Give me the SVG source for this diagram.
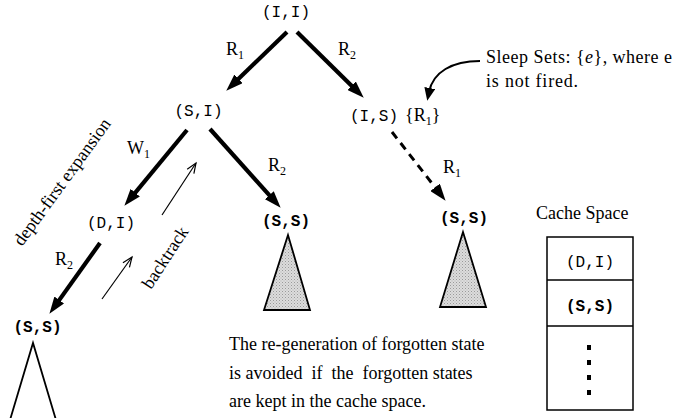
<svg xmlns="http://www.w3.org/2000/svg" width="675" height="418" viewBox="0 0 675 418">
<style>
.mono{font-family:"Liberation Mono","Courier New",monospace;font-size:16px;fill:#000;text-anchor:middle}
.bold{font-weight:bold}
.serif{font-family:"Liberation Serif","Times New Roman",serif;font-size:18px;fill:#000}
.thick{stroke:#000;stroke-width:4.2;fill:none;marker-end:url(#head)}
.dash{stroke:#000;stroke-width:3;fill:none;stroke-dasharray:8 6;marker-end:url(#head)}
.thin{stroke:#000;stroke-width:1.2;fill:none;marker-end:url(#open)}
.curve{stroke:#000;stroke-width:2;fill:none;marker-end:url(#head2)}
.tri{stroke:#000;stroke-width:1.8;fill:url(#stipple)}
.box{stroke:#000;stroke-width:1.5;fill:#fff}
</style>
<defs>
<pattern id="stipple" patternUnits="userSpaceOnUse" width="3" height="3">
<rect width="3" height="3" fill="#dcdcdc"/>
<rect x="0" y="0" width="1" height="1" fill="#9a9a9a"/>
<rect x="1.5" y="1.5" width="1" height="1" fill="#b0b0b0"/>
</pattern>
<marker id="head" markerUnits="userSpaceOnUse" markerWidth="17" markerHeight="12" refX="6" refY="6" orient="auto">
<path d="M0,0 L17,6 L0,12 z" fill="#000"/>
</marker>
<marker id="head2" markerUnits="userSpaceOnUse" markerWidth="13" markerHeight="11" refX="4" refY="5.5" orient="auto">
<path d="M0,0 L13,5.5 L0,11 z" fill="#000"/>
</marker>
<marker id="open" markerUnits="userSpaceOnUse" markerWidth="12" markerHeight="10" refX="10" refY="4" orient="auto" overflow="visible">
<path d="M0,0 L10,4 L0,8" fill="none" stroke="#000" stroke-width="1.2"/>
</marker>
</defs>

<g id="connectors">
<line class="thick" x1="287" y1="32" x2="234.2" y2="83.0"/>
<line class="thick" x1="297" y1="32" x2="355.9" y2="90.0"/>
<line class="thick" x1="187" y1="130" x2="131.4" y2="197.3"/>
<line class="thick" x1="210" y1="129" x2="273.3" y2="199.6"/>
<line class="thick" x1="100" y1="243" x2="55.8" y2="304.9"/>
<line class="dash" x1="392" y1="132" x2="438.8" y2="192.1"/>
<line class="thin" x1="162" y1="215" x2="196" y2="163"/>
<line class="thin" x1="102" y1="299" x2="132" y2="257"/>
<path class="curve" d="M480,61 C452,61 433,72 429,92"/>
</g>

<g id="edge-labels">
<text class="serif" x="226" y="55">R<tspan font-size="12" dy="4">1</tspan></text>
<text class="serif" x="338" y="55">R<tspan font-size="12" dy="4">2</tspan></text>
<text class="serif" x="127" y="154">W<tspan font-size="12" dy="4">1</tspan></text>
<text class="serif" x="268" y="171">R<tspan font-size="12" dy="4">2</tspan></text>
<text class="serif" x="443" y="173">R<tspan font-size="12" dy="4">1</tspan></text>
<text class="serif" x="55" y="265">R<tspan font-size="12" dy="4">2</tspan></text>
<text class="serif" transform="translate(22,247) rotate(-54)">depth-first expansion</text>
<text class="serif" transform="translate(151,290) rotate(-57)">backtrack</text>
</g>

<g id="node-II"><text class="mono" x="286" y="17">(I,I)</text></g>
<g id="node-SI"><text class="mono" x="198.5" y="116">(S,I)</text></g>
<g id="node-IS">
<text class="mono" x="374" y="121">(I,S)</text>
<text class="serif" x="405" y="121">{R<tspan font-size="12" dy="4">1</tspan><tspan dy="-4">}</tspan></text>
</g>
<g id="node-DI"><text class="mono" x="111" y="228">(D,I)</text></g>
<g id="node-SS-mid">
<text class="mono bold" x="286" y="226">(S,S)</text>
<polygon class="tri" points="288,235 264,310 310,310"/>
</g>
<g id="node-SS-right">
<text class="mono bold" x="464" y="223">(S,S)</text>
<polygon class="tri" points="463,232 440,307 486,307"/>
</g>
<g id="node-SS-left">
<text class="mono bold" x="37.5" y="332">(S,S)</text>
<polyline points="10,420 33,343 56,420" fill="none" stroke="#000" stroke-width="1.8"/>
</g>

<g id="sleep-note">
<text class="serif" x="486" y="63" font-size="19.5" textLength="186" lengthAdjust="spacing">Sleep Sets: {<tspan font-style="italic">e</tspan>}, where e</text>
<text class="serif" x="486" y="87" font-size="19.5" textLength="92" lengthAdjust="spacing">is not fired.</text>
</g>

<g id="regen-note">
<text class="serif" x="229" y="350" xml:space="preserve">The re-generation of forgotten state</text>
<text class="serif" x="229" y="379" xml:space="preserve">is avoided  if  the  forgotten states</text>
<text class="serif" x="229" y="407" xml:space="preserve">are kept in the cache space.</text>
</g>

<g id="cache">
<text class="serif" x="536" y="219" font-size="18.5">Cache Space</text>
<rect class="box" x="547" y="237" width="86" height="173"/>
<line x1="547" y1="280" x2="633" y2="280" stroke="#000" stroke-width="1.5"/>
<line x1="547" y1="326" x2="633" y2="326" stroke="#000" stroke-width="1.5"/>
<text class="mono" x="590" y="267">(D,I)</text>
<text class="mono bold" x="590" y="311">(S,S)</text>
<g fill="#000">
<rect x="587" y="345" width="4" height="5"/>
<rect x="587" y="360" width="4" height="5"/>
<rect x="587" y="375" width="4" height="5"/>
<rect x="587" y="390" width="4" height="5"/>
</g>
</g>
</svg>
